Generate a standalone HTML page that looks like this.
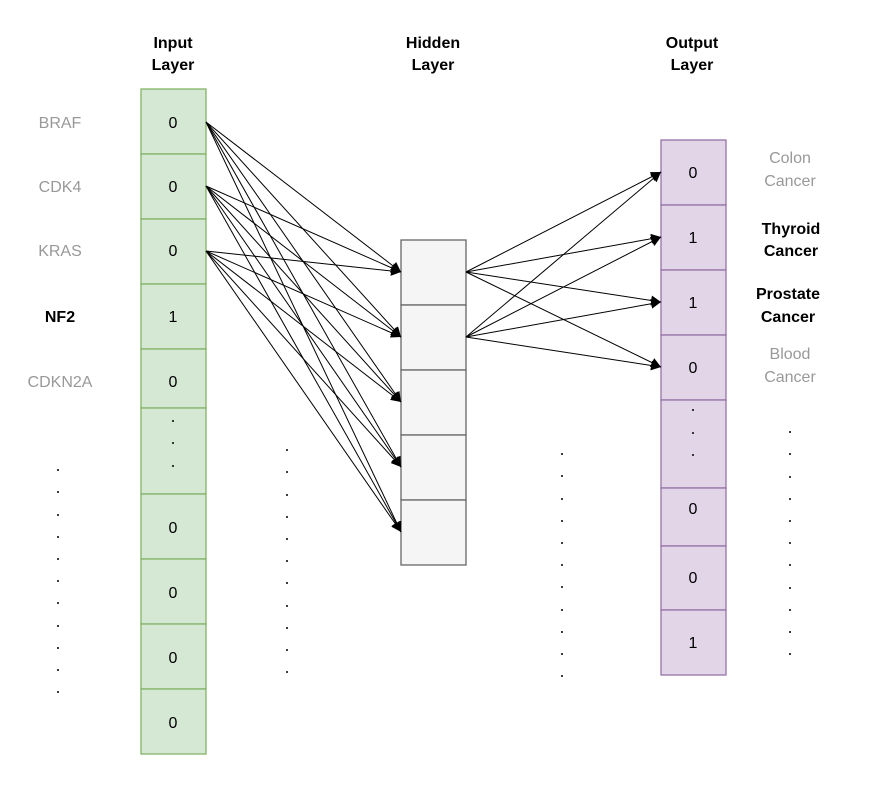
<!DOCTYPE html>
<html><head><meta charset="utf-8"><style>
html,body{margin:0;padding:0;background:#fff;}
svg{display:block;}
text{font-family:"Liberation Sans",sans-serif;font-size:16px;}
</style></head><body>
<svg width="872" height="790" viewBox="0 0 872 790" xmlns="http://www.w3.org/2000/svg">
<defs>
<marker id="a" viewBox="0 0 10 10" refX="10" refY="5" markerWidth="10" markerHeight="10" markerUnits="userSpaceOnUse" orient="auto">
<path d="M0,0 L10,5 L0,10 z" fill="#000"/></marker>
</defs>
<g text-anchor="middle" font-weight="bold" fill="#000">
<text x="173" y="48" font-weight="bold">Input</text><text x="173" y="70" font-weight="bold">Layer</text>
<text x="433" y="48" font-weight="bold">Hidden</text><text x="433" y="70" font-weight="bold">Layer</text>
<text x="692" y="48" font-weight="bold">Output</text><text x="692" y="70" font-weight="bold">Layer</text>
</g>
<g fill="#d5e8d4" stroke="#82b366" stroke-width="1.3">
<rect x="141" y="89" width="65" height="65"/><rect x="141" y="154" width="65" height="65"/>
<rect x="141" y="219" width="65" height="65"/><rect x="141" y="284" width="65" height="65"/>
<rect x="141" y="349" width="65" height="59"/><rect x="141" y="408" width="65" height="86"/>
<rect x="141" y="494" width="65" height="65"/><rect x="141" y="559" width="65" height="65"/>
<rect x="141" y="624" width="65" height="65"/><rect x="141" y="689" width="65" height="65"/>
</g>
<g text-anchor="middle" fill="#000">
<text x="173" y="128">0</text><text x="173" y="192">0</text><text x="173" y="256">0</text>
<text x="173" y="322">1</text><text x="173" y="387">0</text>
<text x="173" y="533">0</text><text x="173" y="598">0</text><text x="173" y="663">0</text><text x="173" y="728">0</text>
</g>
<g fill="#f5f5f5" stroke="#666" stroke-width="1.3">
<rect x="401" y="240" width="65" height="65"/><rect x="401" y="305" width="65" height="65"/>
<rect x="401" y="370" width="65" height="65"/><rect x="401" y="435" width="65" height="65"/>
<rect x="401" y="500" width="65" height="65"/>
</g>
<g fill="#e1d5e7" stroke="#9673a6" stroke-width="1.3">
<rect x="661" y="140" width="65" height="65"/><rect x="661" y="205" width="65" height="65"/>
<rect x="661" y="270" width="65" height="65"/><rect x="661" y="335" width="65" height="65"/>
<rect x="661" y="400" width="65" height="88"/><rect x="661" y="488" width="65" height="58"/>
<rect x="661" y="546" width="65" height="64"/><rect x="661" y="610" width="65" height="65"/>
</g>
<g text-anchor="middle" fill="#000">
<text x="693" y="178">0</text><text x="693" y="243">1</text><text x="693" y="308">1</text><text x="693" y="373">0</text>
<text x="693" y="514">0</text><text x="693" y="583">0</text><text x="693" y="648">1</text>
</g>
<g text-anchor="middle" fill="#999">
<text x="60" y="128">BRAF</text><text x="60" y="192">CDK4</text><text x="60" y="256">KRAS</text>
<text x="60" y="387">CDKN2A</text>
<text x="790" y="163">Colon</text><text x="790" y="186">Cancer</text>
<text x="790" y="359">Blood</text><text x="790" y="382">Cancer</text>
</g>
<g text-anchor="middle" fill="#000" font-weight="bold">
<text x="60" y="322" font-weight="bold">NF2</text>
<text x="791" y="234" font-weight="bold">Thyroid</text><text x="791" y="256" font-weight="bold">Cancer</text>
<text x="788" y="299" font-weight="bold">Prostate</text><text x="788" y="322" font-weight="bold">Cancer</text>
</g>
<g stroke="#000" stroke-width="1" marker-end="url(#a)" fill="none">
<path d="M206,122L401,272"/><path d="M206,122L401,337"/><path d="M206,122L401,402"/><path d="M206,122L401,467"/><path d="M206,122L401,532"/>
<path d="M206,186L401,272"/><path d="M206,186L401,337"/><path d="M206,186L401,402"/><path d="M206,186L401,467"/><path d="M206,186L401,532"/>
<path d="M206,251L401,272"/><path d="M206,251L401,337"/><path d="M206,251L401,402"/><path d="M206,251L401,467"/><path d="M206,251L401,532"/>
<path d="M466,272L661,172"/><path d="M466,272L661,237"/><path d="M466,272L661,302"/><path d="M466,272L661,367"/>
<path d="M466,337L661,172"/><path d="M466,337L661,237"/><path d="M466,337L661,302"/><path d="M466,337L661,367"/>
</g>
<g fill="#000">
<circle cx="173" cy="421" r="1"/><circle cx="173" cy="443" r="1"/><circle cx="173" cy="466" r="1"/>
<circle cx="693" cy="410" r="1"/><circle cx="693" cy="433" r="1"/><circle cx="693" cy="455" r="1"/>
</g>
<g fill="#000" id="d">
<circle cx="58" cy="470" r="1"/><circle cx="58" cy="492" r="1"/><circle cx="58" cy="515" r="1"/><circle cx="58" cy="537" r="1"/><circle cx="58" cy="559" r="1"/><circle cx="58" cy="581" r="1"/><circle cx="58" cy="603" r="1"/><circle cx="58" cy="626" r="1"/><circle cx="58" cy="648" r="1"/><circle cx="58" cy="670" r="1"/><circle cx="58" cy="692" r="1"/>
</g>
<use href="#d" transform="translate(229,-20)"/>
<use href="#d" transform="translate(504,-16)"/>
<use href="#d" transform="translate(732,-38)"/>
</svg>
</body></html>
